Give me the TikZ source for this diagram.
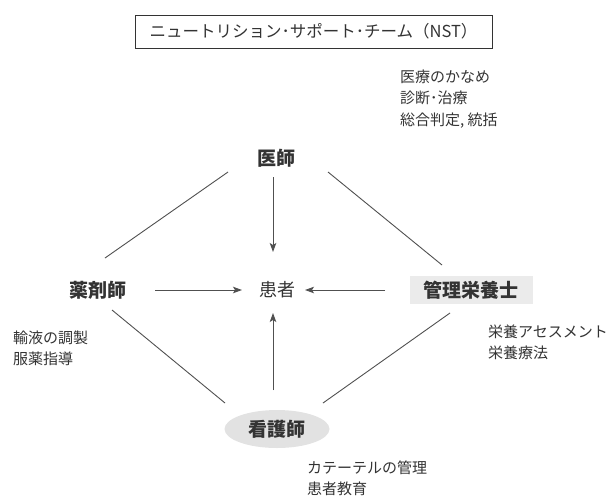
\documentclass[tikz,border=0pt]{standalone}
\usepackage{fontspec}
\newfontfamily\jp{Noto Sans CJK JP}
\usetikzlibrary{arrows.meta,shapes.geometric}
\definecolor{ink}{HTML}{333333}
\definecolor{linec}{HTML}{505050}
\definecolor{boxgray}{HTML}{EBEBEB}
\definecolor{ellgray}{HTML}{E2E2E2}
\tikzset{
  role/.style={font=\jp\bfseries\fontsize{19}{22}\selectfont, text=ink, inner sep=0pt},
  center/.style={font=\jp\fontsize{18}{22}\selectfont, text=ink, inner sep=0pt},
  note/.style={font=\jp\fontsize{15}{21.5}\selectfont, text=ink, inner sep=0pt, align=left, anchor=north west},
  link/.style={draw=linec, line width=0.9pt},
  arr/.style={draw=linec, line width=0.9pt, -{Stealth[length=9pt,width=6.5pt,inset=2pt]}, fill=linec}
}
\begin{document}
\begin{tikzpicture}[x=1pt,y=-1pt]
\useasboundingbox (0,0) rectangle (609,496);
\node[draw=ink, line width=0.8pt, minimum width=357pt, minimum height=33pt, inner sep=0pt,
  font=\jp\fontsize{16.5}{20}\selectfont, text=ink] (title) at (313.5,31.5) {ニュートリション･サポート･チーム（NST）};
\node[note] (docnote) at (400,69.5) {医療のかなめ\\診断･治療\\総合判定, 統括};
\node[role] (doc) at (276,158) {医師};
\node[center] (pat) at (277,290) {患者};
\node[role] (phar) at (98,290) {薬剤師};
\node[role, fill=boxgray, minimum width=123pt, minimum height=28pt] (diet) at (471,290) {管理栄養士};
\node[role, ellipse, fill=ellgray, minimum width=105pt, minimum height=38pt] (nurse) at (277,429) {看護師};
\node[note] (pharnote) at (13,330.5) {輸液の調製\\服薬指導};
\node[note] (dietnote) at (488,324.5) {栄養アセスメント\\栄養療法};
\node[note] (nursenote) at (307,460.5) {カテーテルの管理\\患者教育};
% diamond links
\draw[link] ([shift={(-48,14)}]doc.center) -- ([shift={(7,-32)}]phar.center);
\draw[link] ([shift={(52,14)}]doc.center) -- ([shift={(-29,-25)}]diet.center);
\draw[link] ([shift={(14,20)}]phar.center) -- ([shift={(-52,-26)}]nurse.center);
\draw[link] ([shift={(-21,23)}]diet.center) -- ([shift={(46,-26)}]nurse.center);
% arrows to patient
\draw[arr] ([shift={(-3,19)}]doc.center) -- ([shift={(-4,-38)}]pat.center);
\draw[arr] ([shift={(57,0)}]phar.center) -- ([shift={(-35,0)}]pat.center);
\draw[arr] ([shift={(-86,0)}]diet.center) -- ([shift={(28,0)}]pat.center);
\draw[arr] ([shift={(-4,-39)}]nurse.center) -- ([shift={(-4,23)}]pat.center);
\end{tikzpicture}
\end{document}
